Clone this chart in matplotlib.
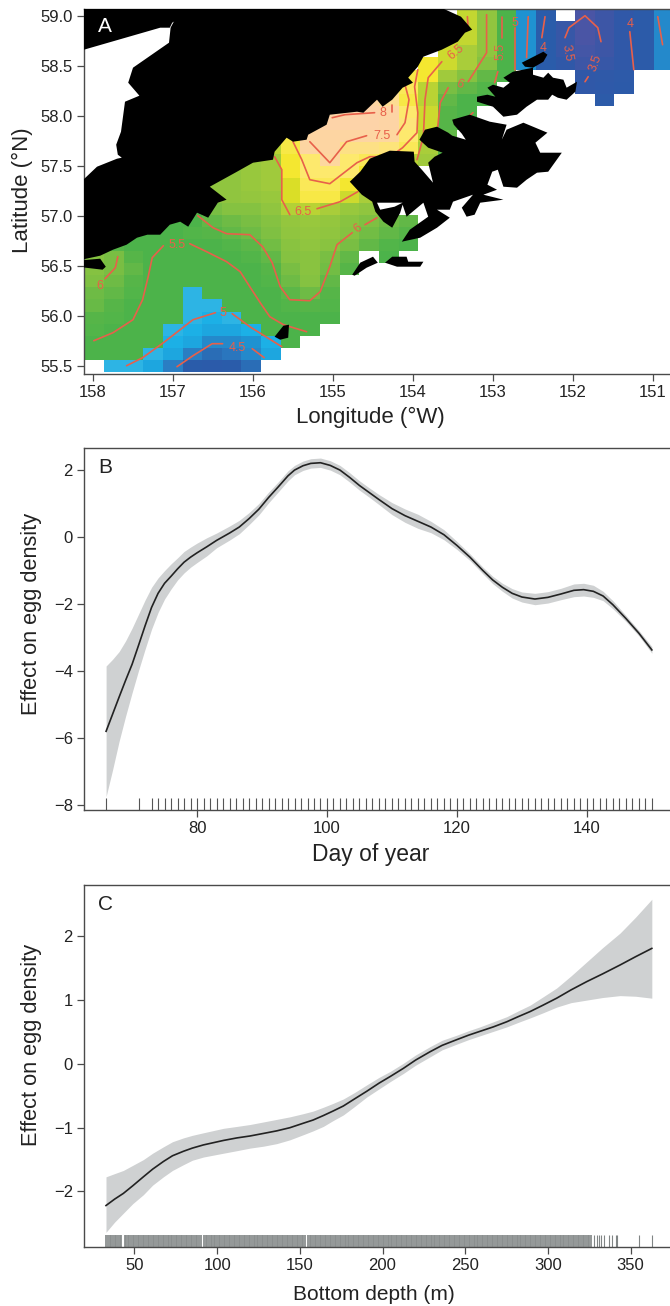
#coding=utf-8
# egg density map plus two smooth effect panels
import matplotlib
matplotlib.use('Agg')
import matplotlib.pyplot as plt
import numpy as np
from matplotlib.colors import LinearSegmentedColormap

plt.rcParams['font.family'] = ['Liberation Sans', 'DejaVu Sans']

n = float('nan')

# temperature grid, rows from north to south, 30 columns west to east
row_top = [n]*19 + [6.45, 6.0, 5.4, 4.8, 4.2, n, 3.4, 3.6, 3.8, 4.1, 4.7]
row_28 = [n]*19 + [6.45, 6.0, 5.4, 4.8, 4.2, 3.7, 3.4, 3.6, 3.8, 4.1, 4.7]
row_27 = [n]*18 + [6.5, 6.45, 6.0, 5.4, 4.8, 4.2, 3.7, 3.4, 3.6, 3.8, 4.1, 4.7]
row_26 = [n]*18 + [6.5, 6.3, 6.0, 5.4, 4.8, 4.2, 3.7, 3.5, 3.6, 3.8, 4.1, 4.7]
row_25 = [n]*17 + [6.9, 6.5, 6.3, 5.9, 5.4, 4.8, 4.2, 3.8, 3.6, 3.7, 3.8, 4.1, 4.7]
row_24 = [n]*16 + [7.0, 6.9, 6.2, 5.9, 5.6, 5.35, n, n, n, 3.8, 3.9, 4.0, n, n]
row_23 = [n]*15 + [7.4, 7.1, 6.4, 5.8, 5.6, 5.45, n, n, n, n, 3.8, 3.95, 4.05, n, n]
row_22 = [n]*14 + [7.8, 7.5, 7.0, 6.4, 5.6, 5.4, 5.4] + [n]*5 + [4.1, n, n, n]
row_21 = [n]*12 + [7.9, 8.0, 8.0, 7.9, 7.2, 6.5, 5.5, 5.35] + [n]*10
row_20 = [n]*11 + [7.9, 8.0, 8.0, 8.0, 7.9, 7.3, 6.5, 5.5, 5.3] + [n]*10
row_19 = [n]*10 + [7.0, 7.8, 7.8, 7.8, 7.8, 7.7, 7.2, 6.4, 5.6] + [n]*11
row_18 = [n]*9 + [6.4, 7.0, 7.8, 7.8, 7.4, 7.4, 7.3, 7.1, 6.3, 5.5] + [n]*11
row_17 = [n]*8 + [6.1, 6.2, 6.9, 7.2, 7.7, 7.2, 7.1, 6.8, 6.4, 6.2, 5.5] + [n]*11
row_16 = [n]*7 + [6.0, 6.1, 6.2, 6.9, 7.2, 7.2, 7.2, 6.9] + [n]*15
row_15 = [n]*6 + [6.0, 6.0, 6.1, 6.2, 6.6, 7.1, 7.1, 6.9, 6.9] + [n]*15
row_14 = [n]*6 + [6.0, 6.0, 6.05, 6.1, 6.6, 7.0, 7.0, 6.5, 6.3, 6.0] + [n]*14
row_13 = [n]*5 + [5.5, 5.8, 5.9, 5.9, 6.0, 6.35, 6.4, 6.3, 6.1, 6.0, 5.9] + [n]*14
row_12 = [n]*4 + [5.4, 5.4, 5.6, 5.7, 5.8, 5.9, 6.05, 6.1, 6.05, 5.95, 5.85, 5.7, 5.6] + [n]*13
row_11 = [n]*2 + [5.4, 5.4, 5.4, 5.45, 5.5, 5.6, 5.7, 5.85, 6.0, 6.05, 6.0, 5.9, 5.75, 5.6, 5.5] + [n]*13
row_10 = [n] + [5.5, 5.4, 5.4, 5.4, 5.4, 5.4, 5.45, 5.55, 5.75, 5.95, 6.0, 5.95, 5.8, 5.6, 5.45, 5.4] + [n]*13
row_9 = [5.9, 5.8, 5.5, 5.4, 5.4, 5.4, 5.4, 5.4, 5.45, 5.6, 5.9, 5.95, 5.8, 5.6, n, 5.4] + [n]*14
row_8 = [5.9, 5.8, 5.6, 5.4, 5.4, 5.4, 5.4, 5.4, 5.4, 5.5, 5.8, 5.95, 5.75, 5.5] + [n]*16
row_7 = [5.85, 5.7, 5.5, 5.4, 5.4, 5.4, 5.4, 5.4, 5.4, 5.45, 5.7, 5.9, 5.6] + [n]*17
row_6 = [5.7, 5.6, 5.45, 5.4, 5.4, 5.0, 5.35, 5.4, 5.4, 5.4, 5.55, 5.7, 5.5] + [n]*17
row_5 = [5.65, 5.5, 5.4, 5.4, 5.4, 5.0, 5.0, 5.35, 5.35, 5.35, 5.45, 5.5, 5.45] + [n]*17
row_4 = [5.5, 5.45, 5.4, 5.4, 5.4, 5.0, 4.95, 5.0, 5.35, 5.35, 5.4, 5.4, 5.4] + [n]*17
row_3 = [5.45, 5.4, 5.4, 5.35, 5.0, 4.95, 4.9, 4.9, 4.95, 5.35, 5.35, 5.35] + [n]*18
row_2 = [5.4, 5.4, 5.35, 5.35, 4.95, 4.9, 4.7, 4.7, 4.8, 4.95, 5.35] + [n]*19
row_1 = [5.4, 5.35, 5.35, 5.0, 4.9, 4.6, 4.4, 4.5, 4.7, 4.9] + [n]*20
row_0 = [n, 5.0, 5.0, 4.9, 4.6, 4.2, 4.15, 4.2, 4.4] + [n]*21

temp_rows = [row_top, row_28, row_27, row_26, row_25, row_24, row_23, row_22, row_21, row_20,
             row_19, row_18, row_17, row_16, row_15, row_14, row_13, row_12, row_11, row_10,
             row_9, row_8, row_7, row_6, row_5, row_4, row_3, row_2, row_1, row_0]

# land outlines (lon west, lat north)
nw_land_lon = [158.2, 156.85, 156.88, 157.01, 157.04, 157.16, 158.2]
nw_land_lat = [59.1, 59.1, 58.99, 58.93, 58.88, 58.88, 58.64]
peninsula_lon = [156.85, 157.03, 157.05, 157.5, 157.56, 157.42, 157.6, 157.65, 157.71, 157.69, 157.64, 157.7, 157.95, 158.2,
                 158.2, 157.91, 157.75, 157.58, 157.45, 157.32, 157.16, 157.04, 156.91, 156.81, 156.7, 156.56, 156.44, 156.33,
                 156.54, 156.2, 156.0, 155.75, 155.73, 155.58, 155.5, 155.33, 155.31, 155.08, 155.04, 154.7, 154.62, 154.45,
                 154.38, 154.26, 154.13, 154.0, 154.06, 153.94, 153.87, 153.64, 153.44, 153.35, 153.26, 153.4, 153.62, 153.62]
peninsula_lat = [59.15, 58.88, 58.73, 58.48, 58.33, 58.2, 58.14, 57.84, 57.71, 57.61, 57.58, 57.57, 57.49, 57.3,
                 56.55, 56.6, 56.66, 56.71, 56.78, 56.81, 56.81, 56.91, 56.94, 56.89, 57.03, 56.98, 57.13, 57.16,
                 57.29, 57.44, 57.53, 57.56, 57.64, 57.78, 57.74, 57.76, 57.81, 57.91, 58.01, 58.04, 58.03, 58.16,
                 58.09, 58.16, 58.28, 58.33, 58.38, 58.49, 58.59, 58.66, 58.74, 58.83, 58.86, 58.99, 59.07, 59.15]
left_isle_lon = [158.2, 157.91, 157.84, 157.88, 158.2]
left_isle_lat = [56.55, 56.57, 56.49, 56.46, 56.49]
kodiak_lon = [154.79, 154.66, 154.54, 154.29, 153.99, 153.98, 153.89, 153.75, 153.81, 153.73, 153.63, 153.81, 153.92, 153.85,
              153.7, 153.56, 153.51, 153.34, 153.39, 153.49, 153.51, 153.29, 153.04, 152.83, 152.89, 152.83, 152.62, 152.32,
              152.47, 152.41, 152.14, 152.31, 152.45, 152.58, 152.7, 152.87, 152.94, 153.01, 153.07, 152.95, 153.12, 152.87,
              153.16, 153.23, 153.33, 153.39, 153.25, 153.5, 153.54, 153.7, 153.54, 153.7, 153.91, 154.14, 154.04, 153.81,
              153.87, 154.08, 154.13, 154.16, 154.26, 154.37, 154.47, 154.51, 154.64]
kodiak_lat = [57.34, 57.44, 57.57, 57.65, 57.64, 57.54, 57.46, 57.33, 57.53, 57.59, 57.63, 57.68, 57.76, 57.86,
              57.89, 57.83, 57.8, 57.76, 57.82, 57.91, 57.96, 58.01, 57.94, 57.91, 57.76, 57.86, 57.93, 57.83,
              57.73, 57.63, 57.63, 57.44, 57.43, 57.36, 57.28, 57.29, 57.46, 57.44, 57.31, 57.26, 57.21, 57.16,
              57.13, 57.01, 56.99, 57.08, 57.21, 57.14, 57.06, 57.06, 56.98, 56.88, 56.78, 56.74, 56.86, 56.99,
              57.13, 56.99, 57.11, 57.03, 56.88, 56.94, 57.04, 57.14, 57.21]
bay_lon = [154.45, 154.13, 154.23, 154.41]
bay_lat = [57.13, 57.13, 57.09, 57.06]
afognak_lon = [152.87, 152.75, 152.5, 152.5, 152.37, 152.31, 152.25, 152.12, 152.08, 151.95, 151.97, 152.08, 152.19, 152.26,
               152.31, 152.45, 152.58, 152.7, 152.87, 153.0, 153.2, 153.2, 153.07, 152.97, 153.07, 153.0, 152.87, 152.79]
afognak_lat = [58.38, 58.44, 58.48, 58.41, 58.38, 58.43, 58.38, 58.36, 58.28, 58.34, 58.24, 58.16, 58.18, 58.21,
               58.16, 58.16, 58.09, 58.01, 57.99, 58.09, 58.14, 58.19, 58.21, 58.19, 58.28, 58.31, 58.28, 58.33]
shuyak_lon = [152.64, 152.37, 152.32, 152.37, 152.5, 152.6]
shuyak_lat = [58.53, 58.64, 58.61, 58.54, 58.48, 58.49]
trinity_a_lon = [154.76, 154.66, 154.5, 154.44, 154.58, 154.73]
trinity_a_lat = [56.41, 56.53, 56.59, 56.53, 56.48, 56.4]
trinity_b_lon = [154.35, 154.26, 154.08, 154.06, 153.87, 153.91, 154.2]
trinity_b_lat = [56.53, 56.59, 56.59, 56.54, 56.54, 56.49, 56.49]
chirikof_lon = [155.73, 155.62, 155.55, 155.56, 155.66]
chirikof_lat = [55.79, 55.9, 55.91, 55.78, 55.76]

# isotherm pieces as (lon list, lat list)
isotherms = [
    ([157.69, 157.72, 157.85], [56.59, 56.48, 56.37]),
    ([157.99, 157.75, 157.5, 157.38, 157.31, 157.26, 157.12], [55.75, 55.83, 55.96, 56.16, 56.39, 56.58, 56.7]),
    ([156.79, 156.58, 156.33, 156.16, 156.04, 155.91, 155.79, 155.62, 155.33], [56.72, 56.64, 56.54, 56.44, 56.29, 56.13, 55.99, 55.91, 55.84]),
    ([156.69, 156.5, 156.33, 156.04, 155.88, 155.76, 155.66, 155.54, 155.29, 155.16, 155.04, 154.95, 154.76],
     [57.0, 56.88, 56.82, 56.81, 56.69, 56.53, 56.29, 56.16, 56.15, 56.24, 56.49, 56.71, 56.83]),
    ([154.6, 154.45], [56.91, 56.98]),
    ([155.73, 155.64, 155.64, 155.54], [57.59, 57.46, 57.16, 57.01]),
    ([155.2, 154.91, 154.69], [57.07, 57.14, 57.24]),
    ([155.5, 155.39, 155.29, 155.04, 154.7, 154.54, 154.38, 154.2, 154.13, 153.95, 153.94, 153.98, 153.94],
     [57.74, 57.56, 57.36, 57.32, 57.53, 57.59, 57.59, 57.64, 57.68, 57.83, 58.03, 58.29, 58.46]),
    ([155.29, 155.04, 154.83, 154.58], [57.74, 57.53, 57.74, 57.8]),
    ([154.2, 154.1, 154.05, 154.11], [57.81, 57.93, 58.16, 58.34]),
    ([153.95, 153.87, 153.85, 153.81, 153.64], [57.56, 57.79, 58.16, 58.38, 58.54]),
    ([153.32, 153.31], [58.99, 58.86]),
    ([153.08, 153.08, 153.31], [59.01, 58.63, 58.34]),
    ([153.56, 153.66, 153.69], [58.28, 58.13, 57.89]),
    ([152.89, 152.89], [58.99, 58.78]),
    ([152.94, 152.98], [58.44, 58.33]),
    ([153.25, 153.35], [58.03, 57.96]),
    ([152.73, 152.73], [58.88, 58.46]),
    ([152.56, 152.58], [58.99, 58.58]),
    ([152.35, 152.39], [58.99, 58.78]),
    ([152.1, 152.05, 151.85, 151.69, 151.65], [58.78, 58.88, 59.0, 58.88, 58.74]),
    ([151.81, 151.85], [58.39, 58.34]),
    ([151.29, 151.24], [58.84, 58.46]),
    ([150.94, 150.88], [58.99, 58.71]),
    ([156.95, 156.75, 156.51, 156.38], [55.49, 55.6, 55.72, 55.72]),
    ([156.01, 155.86], [55.67, 55.58]),
    ([157.58, 157.38, 157.12, 156.75, 156.47], [55.5, 55.58, 55.73, 55.96, 56.03]),
    ([156.26, 156.04, 155.64], [56.02, 55.89, 55.69]),
    ([155.01, 154.85, 154.48], [57.98, 58.01, 58.03]),
    ([154.26, 154.26], [58.04, 58.11]),
]
iso_labels = ['6', '5.5', '6', '6.5', '7.5', '8', '6.5', '6', '5.5', '5', '4', '3.5', '3.5', '4', '5', '4.5']
iso_label_lon = [157.91, 156.95, 154.69, 155.37, 154.39, 154.38, 153.46, 153.42, 152.9, 152.73, 152.37, 152.07, 151.72, 151.29, 156.38, 156.19]
iso_label_lat = [56.3, 56.71, 56.87, 57.04, 57.8, 58.03, 58.64, 58.31, 58.64, 58.93, 58.68, 58.63, 58.53, 58.92, 56.03, 55.68]
iso_label_rot = [0, 0, 40, 0, 0, 0, 40, -20, 90, 0, 0, -80, 70, 0, 0, 0]

lon_ticks = [158, 157, 156, 155, 154, 153, 152, 151]
lat_ticks = [55.5, 56.0, 56.5, 57.0, 57.5, 58.0, 58.5, 59.0]

# panel B, effect of day of year
day = [66, 67, 68, 69, 70, 71, 72, 73, 74, 75, 76, 77, 78, 79, 80, 81.5, 83, 85, 86.5, 88, 89.5, 91, 92.5, 94, 95, 96.3, 97.5,
       99, 100.5, 102, 103.5, 105, 106.5, 108, 110, 112, 114, 116, 118, 120, 122, 124, 125.5, 127, 128.5, 130, 132, 134, 136,
       138, 139.5, 141, 142.5, 144, 146, 148, 150]
day_effect = [-5.8, -5.29, -4.78, -4.28, -3.8, -3.23, -2.65, -2.1, -1.68, -1.38, -1.17, -0.95, -0.75, -0.6, -0.47, -0.29, -0.1,
              0.12, 0.3, 0.55, 0.83, 1.18, 1.5, 1.83, 2.0, 2.13, 2.2, 2.22, 2.14, 2.0, 1.78, 1.54, 1.33, 1.12, 0.85, 0.64, 0.47,
              0.3, 0.07, -0.25, -0.6, -1.0, -1.28, -1.5, -1.68, -1.79, -1.85, -1.8, -1.7, -1.59, -1.57, -1.62, -1.76, -2.02,
              -2.43, -2.87, -3.37]
day_upper = [-3.85, -3.65, -3.42, -3.1, -2.72, -2.3, -1.88, -1.5, -1.22, -1.0, -0.8, -0.62, -0.43, -0.3, -0.18, -0.02, 0.12,
             0.33, 0.5, 0.73, 1.0, 1.34, 1.65, 1.98, 2.14, 2.27, 2.34, 2.36, 2.28, 2.14, 1.92, 1.68, 1.47, 1.27, 1.03, 0.84, 0.68,
             0.47, 0.22, -0.13, -0.5, -0.9, -1.17, -1.38, -1.54, -1.64, -1.68, -1.63, -1.53, -1.4, -1.38, -1.44, -1.62, -1.9,
             -2.34, -2.79, -3.27]
day_lower = [-7.75, -6.95, -6.1, -5.35, -4.65, -3.98, -3.35, -2.75, -2.25, -1.85, -1.55, -1.28, -1.07, -0.9, -0.76, -0.56, -0.32,
             -0.09, 0.1, 0.37, 0.66, 1.02, 1.35, 1.68, 1.86, 1.99, 2.06, 2.08, 2.0, 1.86, 1.64, 1.4, 1.19, 0.97, 0.67, 0.44, 0.26,
             0.13, -0.08, -0.37, -0.7, -1.1, -1.39, -1.62, -1.82, -1.94, -2.02, -1.97, -1.87, -1.78, -1.76, -1.8, -1.9, -2.14,
             -2.52, -2.95, -3.47]
rug_days = [66, 71] + list(range(73, 151))
day_ticks = [80, 100, 120, 140]
day_yticks = [-8, -6, -4, -2, 0, 2]

# panel C, effect of bottom depth
depth = [32.8, 38, 43.3, 49, 55.4, 61, 67.5, 73, 79.6, 85, 91.7, 103.8, 112, 119.9, 128, 136, 144, 152.1, 158, 164.2, 170, 176.3,
         183, 190.4, 198, 204.5, 212.6, 220, 228.7, 236, 244.9, 252, 258.9, 267, 275.1, 282, 289.2, 297, 305.3, 314, 323.5, 333,
         343.6, 353, 362.8]
depth_effect = [-2.22, -2.12, -2.03, -1.91, -1.77, -1.65, -1.53, -1.44, -1.37, -1.32, -1.27, -1.2, -1.16, -1.13, -1.09, -1.05,
                -1.0, -0.93, -0.88, -0.81, -0.74, -0.66, -0.55, -0.43, -0.3, -0.2, -0.07, 0.06, 0.19, 0.29, 0.38, 0.45, 0.51,
                0.58, 0.66, 0.74, 0.82, 0.92, 1.03, 1.16, 1.29, 1.41, 1.55, 1.68, 1.81]
depth_upper = [-1.77, -1.72, -1.67, -1.59, -1.5, -1.4, -1.3, -1.22, -1.16, -1.12, -1.08, -1.01, -0.98, -0.95, -0.91, -0.87,
               -0.83, -0.78, -0.74, -0.68, -0.62, -0.55, -0.45, -0.33, -0.21, -0.12, 0.01, 0.14, 0.27, 0.37, 0.45, 0.52, 0.58,
               0.66, 0.74, 0.83, 0.92, 1.05, 1.19, 1.38, 1.6, 1.82, 2.05, 2.3, 2.58]
depth_lower = [-2.64, -2.48, -2.34, -2.19, -2.05, -1.9, -1.77, -1.67, -1.58, -1.51, -1.46, -1.4, -1.36, -1.32, -1.29, -1.25,
               -1.19, -1.11, -1.05, -0.98, -0.89, -0.8, -0.67, -0.52, -0.39, -0.28, -0.15, -0.02, 0.11, 0.22, 0.31, 0.38, 0.44,
               0.51, 0.58, 0.65, 0.72, 0.8, 0.89, 0.96, 1.0, 1.04, 1.07, 1.06, 1.03]
rug_dense = list(range(33, 43)) + list(range(44, 91)) + list(range(92, 154)) + list(range(155, 327))
rug_sparse = [328, 329.4, 331, 332, 333.6, 337, 339, 340.9, 342, 355, 362.8]
depth_ticks = [50, 100, 150, 200, 250, 300, 350]
depth_yticks = [-2, -1, 0, 1, 2]

temp_cmap = LinearSegmentedColormap.from_list('temp', [
    ((3.4 - 3.4) / 4.6, '#4a55a5'), ((3.8 - 3.4) / 4.6, '#3058a8'), ((4.2 - 3.4) / 4.6, '#2a5caa'),
    ((4.6 - 3.4) / 4.6, '#2a7fc4'), ((4.8 - 3.4) / 4.6, '#1e93d2'), ((4.95 - 3.4) / 4.6, '#1cb0e6'),
    ((5.05 - 3.4) / 4.6, '#3ab8e2'), ((5.25 - 3.4) / 4.6, '#4cb34a'), ((5.4 - 3.4) / 4.6, '#4cb34a'),
    ((5.7 - 3.4) / 4.6, '#6dbb45'), ((6.0 - 3.4) / 4.6, '#90c53f'), ((6.3 - 3.4) / 4.6, '#a8cd3a'),
    ((6.5 - 3.4) / 4.6, '#cdda2e'), ((6.8 - 3.4) / 4.6, '#f1e61c'), ((7.2 - 3.4) / 4.6, '#fde96c'),
    ((7.6 - 3.4) / 4.6, '#fdd89c'), (1.0, '#fdd3a8')])

W, H = 670.0, 1306.0
AX_COLOR = '#4a4a4a'


def make_axes(fig, left, right, top, bottom):
    ax = fig.add_axes([left / W, 1 - bottom / H, (right - left) / W, (bottom - top) / H])
    for s in ['left', 'bottom', 'top']:
        ax.spines[s].set_color(AX_COLOR)
        ax.spines[s].set_linewidth(1.0)
    ax.spines['right'].set_visible(False)
    ax.tick_params(length=5, width=0.9, color=AX_COLOR, labelsize=12, labelcolor='#222222', pad=3)
    return ax


fig = plt.figure(figsize=(6.7, 13.06), dpi=100)

# ---- A
ax1 = make_axes(fig, 84, 672, 9, 374)
lon_edges = 158.1075 - 0.2454 * np.arange(31)
lat_edges = 59.067 - 0.121 * np.arange(31)
temp = np.ma.masked_invalid(np.array(temp_rows))
ax1.pcolormesh(lon_edges, lat_edges, temp, cmap=temp_cmap, vmin=3.4, vmax=8.0, shading='flat', linewidth=0, antialiased=False)
for lons, lats in isotherms:
    ax1.plot(lons, lats, color='#e8604a', lw=1.2, solid_capstyle='round')
for t, lo, la, r in zip(iso_labels, iso_label_lon, iso_label_lat, iso_label_rot):
    ax1.text(lo, la, t, color='#e8604a', fontsize=9, ha='center', va='center', rotation=r)
for lons, lats in [(nw_land_lon, nw_land_lat), (peninsula_lon, peninsula_lat), (left_isle_lon, left_isle_lat),
                   (kodiak_lon, kodiak_lat), (afognak_lon, afognak_lat), (shuyak_lon, shuyak_lat),
                   (trinity_a_lon, trinity_a_lat), (trinity_b_lon, trinity_b_lat), (chirikof_lon, chirikof_lat)]:
    ax1.fill(lons, lats, color='black', lw=0, zorder=3)
ax1.fill(bay_lon, bay_lat, color='white', lw=0, zorder=4)
ax1.set_xlim(158.1125, 150.7625)
ax1.set_ylim(55.417, 59.067)
ax1.set_xticks(lon_ticks)
ax1.set_xticklabels([str(v) for v in lon_ticks])
ax1.set_yticks(lat_ticks)
ax1.set_yticklabels(['%.1f' % v for v in lat_ticks])
fig.text(370 / W, 1 - 417 / H, 'Longitude (°W)', fontsize=16, ha='center', va='center', color='#222222')
fig.text(22 / W, 1 - 190 / H, 'Latitude (°N)', fontsize=16, ha='center', va='center', rotation=90, color='#222222')
fig.text(98 / W, 1 - 27 / H, 'A', fontsize=15, color='white', va='center')

# ---- B
ax2 = make_axes(fig, 84, 672, 448, 810)
ax2.fill_between(day, day_lower, day_upper, color='#cfd1d2', lw=0)
ax2.plot(day, day_effect, color='#222222', lw=1.2)
ax2.vlines(rug_days, -8.15, -7.79, color='#555555', lw=0.8)
ax2.set_xlim(62.6, 153.1)
ax2.set_ylim(-8.15, 2.66)
ax2.set_xticks(day_ticks)
ax2.set_yticks(day_yticks)
fig.text(371 / W, 1 - 855 / H, 'Day of year', fontsize=16.5, ha='center', va='center', color='#222222')
fig.text(32 / W, 1 - 614 / H, 'Effect on egg density', fontsize=15.7, ha='center', va='center', rotation=90, color='#222222')
fig.text(98 / W, 1 - 467 / H, 'B', fontsize=15, color='#222222', va='center')

# ---- C
ax3 = make_axes(fig, 84, 672, 884.6, 1247)
ax3.fill_between(depth, depth_lower, depth_upper, color='#cfd1d2', lw=0)
ax3.plot(depth, depth_effect, color='#222222', lw=1.2)
ax3.vlines(rug_dense, -2.87, -2.68, color='#8a8f8f', lw=1.3)
ax3.vlines(rug_sparse, -2.87, -2.68, color='#808585', lw=0.8)
ax3.set_xlim(19.5, 375)
ax3.set_ylim(-2.87, 2.81)
ax3.set_xticks(depth_ticks)
ax3.set_yticks(depth_yticks)
fig.text(374 / W, 1 - 1294 / H, 'Bottom depth (m)', fontsize=15, ha='center', va='center', color='#222222')
fig.text(32 / W, 1 - 1045 / H, 'Effect on egg density', fontsize=15.7, ha='center', va='center', rotation=90, color='#222222')
fig.text(98 / W, 1 - 904 / H, 'C', fontsize=15, color='#222222', va='center')

fig.savefig('out.png', dpi=100)
